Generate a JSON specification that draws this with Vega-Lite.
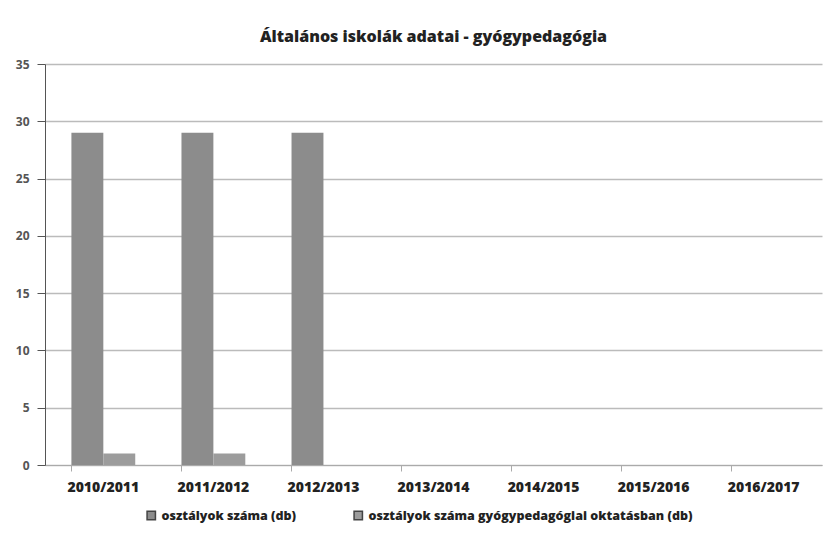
{
  "$schema": "https://vega.github.io/schema/vega-lite/v6.json",
  "width": 777,
  "height": 401,
  "autosize": {"type": "none"},
  "padding": {"left": 45, "top": 64, "right": 10, "bottom": 69},
  "background": "white",
  "title": {
    "text": "Általános iskolák adatai - gyógypedagógia",
    "font": "Open Sans",
    "fontSize": 16,
    "fontWeight": 800,
    "color": "#222222",
    "anchor": "middle",
    "offset": 13
  },
  "data": {
    "values": [
      {"year": "2010/2011", "series": "osztályok száma (db)", "value": 29},
      {"year": "2010/2011", "series": "osztályok száma gyógypedagógiai oktatásban (db)", "value": 1},
      {"year": "2011/2012", "series": "osztályok száma (db)", "value": 29},
      {"year": "2011/2012", "series": "osztályok száma gyógypedagógiai oktatásban (db)", "value": 1},
      {"year": "2012/2013", "series": "osztályok száma (db)", "value": 29},
      {"year": "2012/2013", "series": "osztályok száma gyógypedagógiai oktatásban (db)", "value": 0}
    ]
  },
  "mark": {"type": "bar"},
  "encoding": {
    "x": {
      "field": "year",
      "type": "nominal",
      "scale": {
        "domain": ["2010/2011", "2011/2012", "2012/2013", "2013/2014", "2014/2015", "2015/2016", "2016/2017"],
        "paddingInner": 0.42,
        "paddingOuter": 0.24
      },
      "axis": {
        "title": null,
        "labelAngle": 0,
        "labelFont": "Open Sans",
        "labelFontSize": 14,
        "labelFontWeight": 800,
        "labelColor": "#222222",
        "labelPadding": 9,
        "bandPosition": 0,
        "tickColor": "#aaaaaa",
        "tickSize": 6,
        "domainColor": "#aaaaaa",
        "grid": false
      }
    },
    "xOffset": {"field": "series", "type": "nominal", "scale": {"paddingInner": 0, "paddingOuter": 0}},
    "y": {
      "field": "value",
      "type": "quantitative",
      "scale": {"domain": [0, 35], "nice": false},
      "axis": {
        "title": null,
        "values": [0, 5, 10, 15, 20, 25, 30, 35],
        "labelFont": "Open Sans",
        "labelFontSize": 12,
        "labelFontWeight": "bold",
        "labelColor": "#555555",
        "labelPadding": 8,
        "tickColor": "#555555",
        "tickSize": 8,
        "domainColor": "#555555",
        "gridColor": "#bbbbbb",
        "gridWidth": 1.5
      }
    },
    "color": {
      "field": "series",
      "type": "nominal",
      "scale": {
        "domain": ["osztályok száma (db)", "osztályok száma gyógypedagógiai oktatásban (db)"],
        "range": ["#8c8c8c", "#9c9c9c"]
      },
      "legend": {
        "title": null,
        "orient": "none",
        "direction": "horizontal",
        "legendX": 100,
        "legendY": 445,
        "symbolType": "square",
        "symbolSize": 70,
        "labelFont": "Open Sans",
        "labelFontSize": 12.5,
        "labelFontWeight": 800,
        "labelColor": "#222222",
        "labelLimit": 500,
        "columnPadding": 54,
        "encode": {"symbols": {"update": {"fill": {"value": "#444444"}, "stroke": {"value": "#444444"}}}}
      }
    }
  },
  "config": {
    "view": {"stroke": null}
  }
}
